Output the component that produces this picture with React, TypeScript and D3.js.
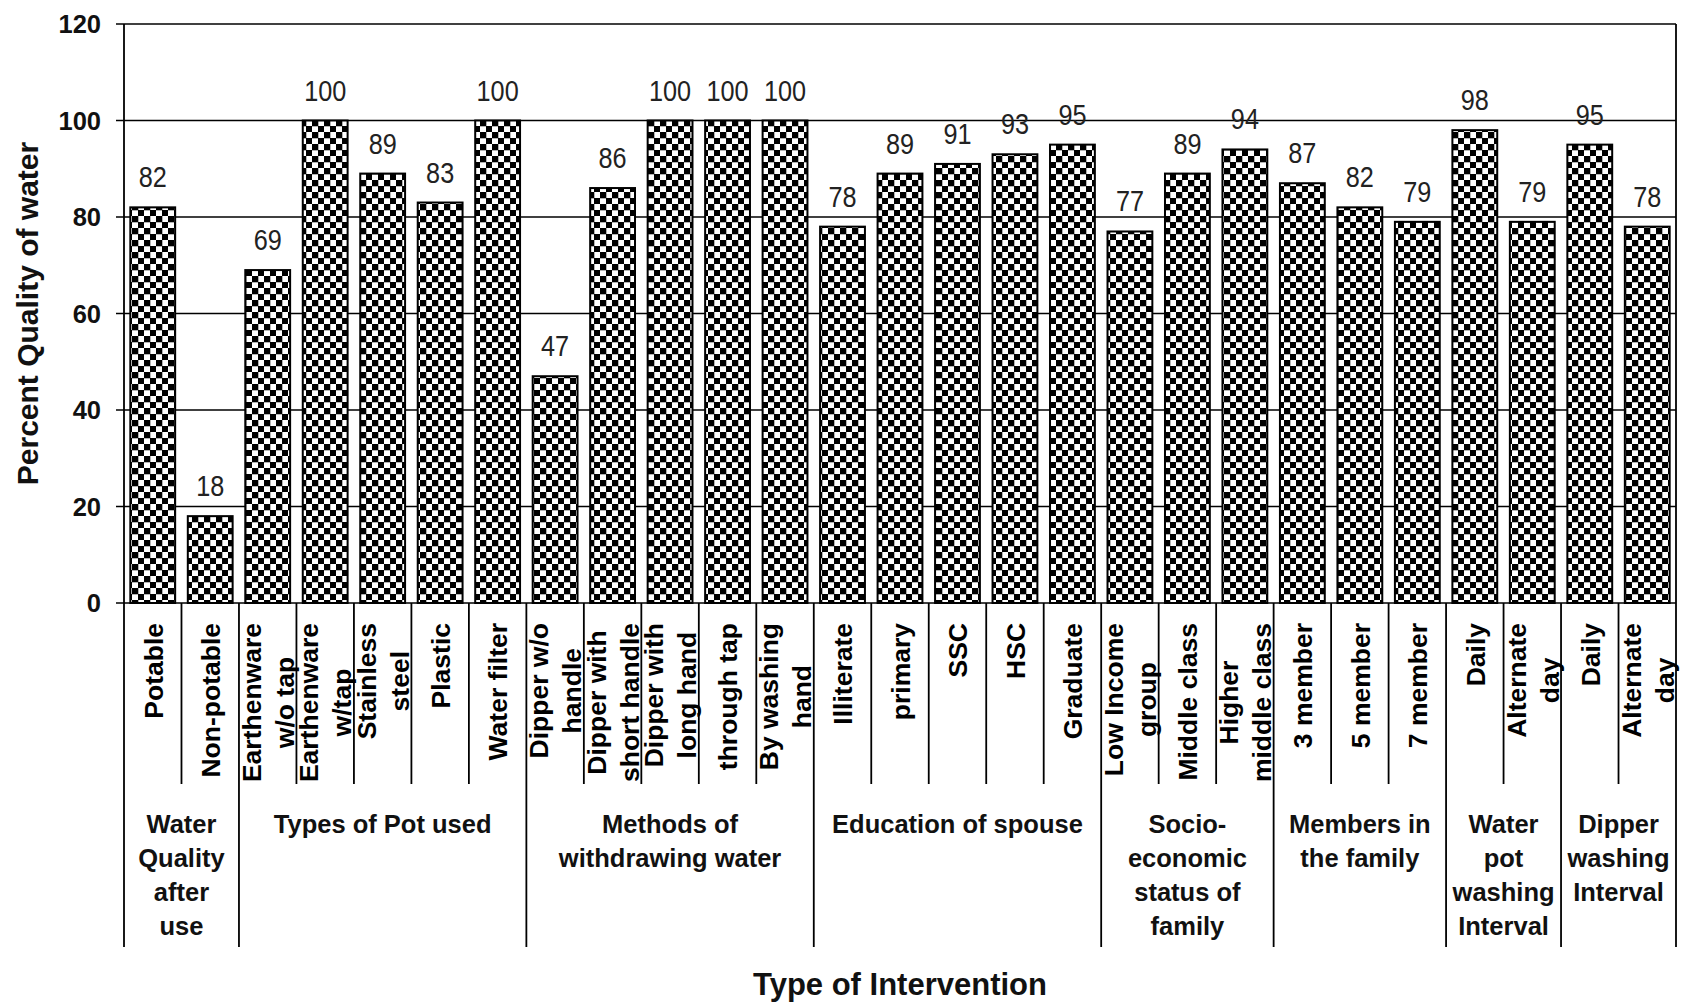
import React, { useMemo } from "react";
import * as d3 from "d3";

const categories: string[][] = [
  ["Potable"],
  ["Non-potable"],
  ["Earthenware", "w/o tap"],
  ["Earthenware", "w/tap"],
  ["Stainless", "steel"],
  ["Plastic"],
  ["Water filter"],
  ["Dipper w/o", "handle"],
  ["Dipper with", "short handle"],
  ["Dipper with", "long hand"],
  ["through tap"],
  ["By washing", "hand"],
  ["Illiterate"],
  ["primary"],
  ["SSC"],
  ["HSC"],
  ["Graduate"],
  ["Low Income", "group"],
  ["Middle class"],
  ["Higher", "middle class"],
  ["3 member"],
  ["5 member"],
  ["7 member"],
  ["Daily"],
  ["Alternate", "day"],
  ["Daily"],
  ["Alternate", "day"],
];

const values: number[] = [
  82, 18, 69, 100, 89, 83, 100, 47, 86, 100, 100, 100, 78, 89, 91, 93, 95, 77,
  89, 94, 87, 82, 79, 98, 79, 95, 78,
];

const groupNames: string[][] = [
  ["Water", "Quality", "after", "use"],
  ["Types of Pot used"],
  ["Methods of", "withdrawing water"],
  ["Education of spouse"],
  ["Socio-", "economic", "status of", "family"],
  ["Members in", "the family"],
  ["Water", "pot", "washing", "Interval"],
  ["Dipper", "washing", "Interval"],
];
const groupSizes: number[] = [2, 5, 5, 5, 3, 3, 2, 2];

const yTicks: number[] = [0, 20, 40, 60, 80, 100, 120];

const yTitle = "Percent Quality of water";
const xTitle = "Type of Intervention";

const FONT = "'Liberation Sans', Arial, Helvetica, sans-serif";

export default function App() {
  const W = 1686;
  const H = 1006;
  const left = 124;
  const right = 1676;
  const top = 24;
  const bottom = 603;

  const x = d3
    .scaleBand<number>()
    .domain(values.map((_, i) => i))
    .range([left, right])
    .paddingInner(0.22)
    .paddingOuter(0.11);
  const y = d3.scaleLinear().domain([0, 120]).range([bottom, top]);
  const step = x.step();
  const bw = x.bandwidth();
  const boundary = (i: number) => (x(i) as number) - (step * 0.22) / 2;
  const center = (i: number) => (x(i) as number) + bw / 2;

  const catFont = 26.5;
  const catFontStr = `bold ${catFont}px 'Liberation Sans', Arial, sans-serif`;
  const measure = useMemo(() => {
    const c = document.createElement("canvas");
    const ctx = c.getContext("2d")!;
    ctx.font = catFontStr;
    return (s: string) => ctx.measureText(s).width;
  }, []);

  const groupStarts: number[] = [];
  let acc = 0;
  groupSizes.forEach((s) => {
    groupStarts.push(acc);
    acc += s;
  });
  const groupBoundaryIdx = new Set<number>([...groupStarts, acc]);

  const shortEnd = 784;
  const longEnd = 947;
  const labelTop = 623;
  const lineGap = 33;

  return (
    <svg
      width={W}
      height={H}
      style={{ position: "absolute", left: 0, top: 0, background: "#fff" }}
      fontFamily={FONT}
    >
      <defs>
        <pattern id="checker" width={12} height={12} patternUnits="userSpaceOnUse">
          <rect width={12} height={12} fill="#fff" />
          <rect width={6.3} height={6.3} fill="#000" />
          <rect x={6} y={6} width={6.3} height={6.3} fill="#000" />
        </pattern>
      </defs>
      <rect width={W} height={H} fill="#fff" />

      {yTicks.map((t) => (
        <line
          key={"g" + t}
          x1={left - 8}
          x2={right}
          y1={y(t)}
          y2={y(t)}
          stroke="#000"
          strokeWidth={1.6}
        />
      ))}
      <line x1={left} x2={left} y1={top} y2={bottom} stroke="#000" strokeWidth={1.8} />
      <line x1={right} x2={right} y1={top} y2={bottom} stroke="#000" strokeWidth={1.8} />

      {yTicks.map((t) => (
        <text
          key={"t" + t}
          x={101}
          y={y(t)}
          dy="0.36em"
          textAnchor="end"
          fontWeight="bold"
          fontSize={25.5}
          fill="#111"
        >
          {t}
        </text>
      ))}

      {values.map((v, i) => (
        <rect
          key={"b" + i}
          x={x(i)}
          y={y(v)}
          width={bw}
          height={y(0) - y(v)}
          fill="url(#checker)"
          stroke="#000"
          strokeWidth={2}
        />
      ))}

      {values.map((v, i) => (
        <text
          key={"v" + i}
          transform={`translate(${center(i)},${y(v) - 20}) scale(0.87,1)`}
          textAnchor="middle"
          fontSize={29}
          fill="#222"
        >
          {v}
        </text>
      ))}

      {d3.range(values.length + 1).map((i) => {
        const bx = i === values.length ? right : boundary(i);
        const isLong = groupBoundaryIdx.has(i);
        return (
          <line
            key={"s" + i}
            x1={bx}
            x2={bx}
            y1={bottom}
            y2={isLong ? longEnd : shortEnd}
            stroke="#000"
            strokeWidth={1.8}
          />
        );
      })}

      {categories.map((lines, i) => {
        const L = Math.max(...lines.map(measure));
        const n = lines.length;
        return lines.map((ln, j) => {
          const cx = center(i) + (j - (n - 1) / 2) * lineGap + catFont * 0.37;
          return (
            <text
              key={"c" + i + "_" + j}
              transform={`translate(${cx},${labelTop}) rotate(-90)`}
              x={-L / 2}
              textAnchor="middle"
              fontWeight="bold"
              fontSize={catFont}
              fill="#000"
            >
              {ln}
            </text>
          );
        });
      })}

      {groupNames.map((lines, g) => {
        const s = groupStarts[g];
        const e = s + groupSizes[g];
        const x0 = boundary(s);
        const x1 = e === values.length ? right : boundary(e);
        const gx = (x0 + x1) / 2;
        return lines.map((ln, j) => (
          <text
            key={"gl" + g + "_" + j}
            x={gx}
            y={833 + j * 34}
            textAnchor="middle"
            fontWeight="bold"
            fontSize={25.5}
            fill="#111"
          >
            {ln}
          </text>
        ));
      })}

      <text
        transform={`translate(38,${(top + bottom) / 2}) rotate(-90)`}
        textAnchor="middle"
        fontWeight="bold"
        fontSize={30}
        fill="#111"
      >
        {yTitle}
      </text>
      <text
        x={(left + right) / 2}
        y={995}
        textAnchor="middle"
        fontWeight="bold"
        fontSize={31}
        fill="#111"
      >
        {xTitle}
      </text>
    </svg>
  );
}
